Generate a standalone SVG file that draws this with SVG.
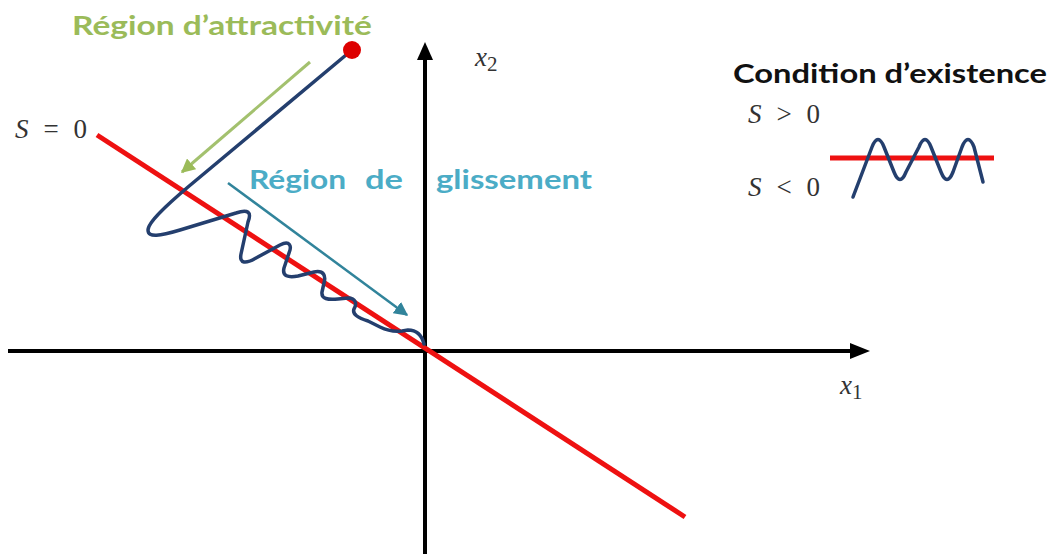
<svg xmlns="http://www.w3.org/2000/svg" width="1052" height="554" viewBox="0 0 1052 554">
<style>
.lbl{font-family:Lato,"Open Sans","Liberation Sans",sans-serif;font-weight:bold}
.math{font-family:"Liberation Serif","DejaVu Serif",serif;font-size:27px;fill:#333}
.it{font-style:italic}
.axis{stroke:#000;stroke-width:4;fill:none}
.traj{stroke:#243f6e;stroke-width:3.5;fill:none;stroke-linejoin:round;stroke-linecap:round}
.sline{stroke:#ee1111;stroke-width:5;fill:none}
</style>
<defs>
<marker id="gh" viewBox="0 0 10 10" refX="9" refY="5" markerWidth="14" markerHeight="14" orient="auto" markerUnits="userSpaceOnUse">
<path d="M0,0 L10,5 L0,10 Z" fill="#9bbb59"/>
</marker>
<marker id="th" viewBox="0 0 10 10" refX="9" refY="5" markerWidth="14" markerHeight="14" orient="auto" markerUnits="userSpaceOnUse">
<path d="M0,0 L10,5 L0,10 Z" fill="#31849b"/>
</marker>
</defs>
<rect width="1052" height="554" fill="#fff"/>

<g id="axes">
<line class="axis" x1="8" y1="351" x2="852" y2="351"/>
<path d="M850,343 L870,351 L850,359 Z" fill="#000"/>
<line class="axis" x1="425" y1="554" x2="425" y2="60"/>
<path d="M417,60 L425,42 L433,60 Z" fill="#000"/>
</g>

<g id="axis-labels">
<text class="math" x="475" y="66" font-size="29"><tspan class="it">x</tspan><tspan font-size="21" dy="5">2</tspan></text>
<text class="math" x="840" y="394" font-size="29"><tspan class="it">x</tspan><tspan font-size="21" dy="5">1</tspan></text>
</g>

<g id="surface">
<line class="sline" x1="97" y1="135" x2="685" y2="517"/>
<text class="math" x="15" y="138" textLength="72" lengthAdjust="spacing"><tspan class="it">S</tspan> = 0</text>
</g>

<g id="trajectory">
<path class="traj" d="M352,50 L188,187 C168,204 148,222 148,230 C148,238 160,236 180,230 L236,213 C248,209 252,212 248,222 L241,254 C239,264 246,264 256,258 L280,245 C290,240 292,246 289,253 L284,268 C282,276 288,278 298,276 L314,272 C324,270 326,276 324,283 L322,292 C321,299 328,300 338,299 L348,298 C356,298 357,304 354,309 C352,314 358,318 368,321 L380,327 C388,331 394,332 402,331 L408,330 C418,330 422,336 424,344"/>
<circle cx="352" cy="50" r="9" fill="#dd0000"/>
</g>

<g id="connectors">
<line x1="310" y1="62" x2="182" y2="172" stroke="#a3c16e" stroke-width="3" marker-end="url(#gh)"/>
<line x1="228" y1="183" x2="407" y2="315" stroke="#31849b" stroke-width="2.5" marker-end="url(#th)"/>
</g>

<g id="region-attractivite">
<text class="lbl" x="72" y="35" font-size="26" fill="#9bbb59" textLength="300" lengthAdjust="spacingAndGlyphs">Région d’attractivité</text>
</g>

<g id="region-glissement">
<text class="lbl" x="249" y="189" font-size="27" fill="#4bacc6" textLength="97" lengthAdjust="spacingAndGlyphs">Région</text>
<text class="lbl" x="365" y="189" font-size="27" fill="#4bacc6" textLength="38" lengthAdjust="spacingAndGlyphs">de</text>
<text class="lbl" x="436" y="189" font-size="27" fill="#4bacc6" textLength="156" lengthAdjust="spacingAndGlyphs">glissement</text>
</g>

<g id="condition">
<text class="lbl" x="733" y="83" font-size="27" fill="#111" textLength="314" lengthAdjust="spacingAndGlyphs">Condition d’existence</text>
<text class="math" x="748" y="123" textLength="72" lengthAdjust="spacing"><tspan class="it">S</tspan> &gt; 0</text>
<text class="math" x="748" y="196" textLength="72" lengthAdjust="spacing"><tspan class="it">S</tspan> &lt; 0</text>
<line class="sline" x1="830" y1="158" x2="994" y2="158"/>
<path class="traj" stroke-width="4.5" d="M853,197 L872,147 Q878,132 884,147 L894,172 Q900,187 906,172 L919,147 Q925,132 931,147 L941,172 Q947,187 953,172 L962,147 Q968,132 974,147 L983,182"/>
</g>
</svg>
